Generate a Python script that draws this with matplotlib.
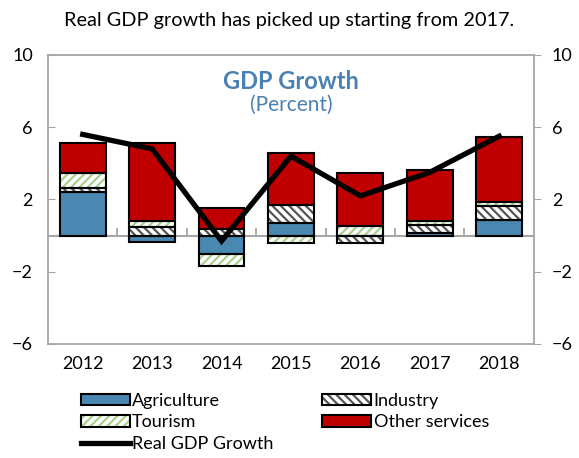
import numpy as np
import matplotlib
matplotlib.use("Agg")
import matplotlib.pyplot as plt
from matplotlib.patches import Patch
from matplotlib.lines import Line2D
from matplotlib.legend_handler import HandlerTuple

plt.rcParams['font.family'] = ['Lato', 'DejaVu Sans']
plt.rcParams['hatch.linewidth'] = 1.6

# data (percentage point contributions)
years = ['2012', '2013', '2014', '2015', '2016', '2017', '2018']
agriculture = [2.42, -0.33, -1.04, 0.69, 0.00, 0.15, 0.87]
industry = [0.22, 0.47, 0.38, 1.02, -0.42, 0.45, 0.77]
tourism = [0.85, 0.31, -0.63, -0.42, 0.52, 0.23, 0.22]
other_services = [1.66, 4.37, 1.15, 2.84, 2.97, 2.78, 3.62]
real_gdp = [5.6, 4.8, -0.3, 4.4, 2.2, 3.5, 5.5]

grey = '#a6a6a6'
blue = '#4a88b2'
red = '#c00000'
fs = 13

fig = plt.figure(figsize=(5.79, 4.58), dpi=100)
ax = fig.add_axes([0.083, 0.249, 0.839, 0.631])

x = np.arange(len(years))
w = 0.66
pos_base = np.zeros(len(years))
neg_base = np.zeros(len(years))

# face colour, hatch, hatch colour
styles = [
    (agriculture, blue, None, blue),
    (industry, 'white', '\\\\\\\\', '#555555'),
    (tourism, 'white', '////', '#a9d18e'),
    (other_services, red, None, red),
]
handles = []
for vals, fc, hatch, hc in styles:
    vals = np.array(vals)
    bottom = np.where(vals >= 0, pos_base, neg_base)
    ax.bar(x, vals, w, bottom=bottom, color=fc, hatch=hatch,
           edgecolor=hc, linewidth=0, zorder=2)
    ax.bar(x, vals, w, bottom=bottom, fill=False,
           edgecolor='black', linewidth=1.5, zorder=3)
    pos_base += np.where(vals >= 0, vals, 0)
    neg_base += np.where(vals < 0, vals, 0)
    handles.append((Patch(facecolor=fc, hatch=hatch, edgecolor=hc, linewidth=0),
                    Patch(fill=False, edgecolor='black', linewidth=1.5)))

ax.plot(x, real_gdp, color='black', linewidth=3.8, zorder=4,
        solid_joinstyle='miter')

ax.set_xlim(-0.5, 6.5)
ax.set_ylim(-6, 10)
ax.set_yticks([-6, -2, 2, 6, 10])
ax.set_xticks(x)
ax.set_xticklabels(years, fontsize=fs)
ax.tick_params(axis='x', length=0, pad=9)
ax.tick_params(axis='y', direction='in', length=5, color=grey,
               labelsize=fs, pad=11)
for s in ax.spines.values():
    s.set_color(grey)
    s.set_linewidth(1.3)

# right-hand axis with the same scale
ax2 = ax.twinx()
ax2.set_ylim(-6, 10)
ax2.set_yticks([-6, -2, 2, 6, 10])
ax2.tick_params(axis='y', direction='out', length=5, color=grey,
                labelsize=fs, pad=8)
for s in ax2.spines.values():
    s.set_visible(False)

# zero line with category separator ticks
zero = ax.secondary_xaxis(6 / 16)
zero.set_xticks(np.arange(0.5, 6.5, 1))
zero.tick_params(direction='in', length=6, color=grey, width=1.3,
                 labelbottom=False)
zero.spines['bottom'].set_color(grey)
zero.spines['bottom'].set_linewidth(1.5)

ax.text(0.5, 0.907, 'GDP Growth', transform=ax.transAxes, ha='center',
        va='center', fontsize=17, fontweight='bold', color='#4a80b2')
ax.text(0.5, 0.827, '(Percent)', transform=ax.transAxes, ha='center',
        va='center', fontsize=15, color='#4a80b2')

fig.text(0.5, 0.955, 'Real GDP growth has picked up starting from 2017.',
         ha='center', va='center', fontsize=14.3)

leg_handles = [handles[0], handles[2],
               Line2D([], [], color='black', linewidth=3.8),
               handles[1], handles[3]]
labels = ['Agriculture', 'Tourism', 'Real GDP Growth', 'Industry', 'Other services']
fig.legend(leg_handles, labels, ncol=2, loc='upper left',
           bbox_to_anchor=(0.127, 0.158), frameon=False, fontsize=fs,
           handlelength=2.7, handleheight=0.6, handletextpad=0.15,
           labelspacing=0.3, columnspacing=2.7, borderaxespad=0,
           handler_map={tuple: HandlerTuple(ndivide=1, pad=0)})

fig.savefig('out.png', dpi=100)
